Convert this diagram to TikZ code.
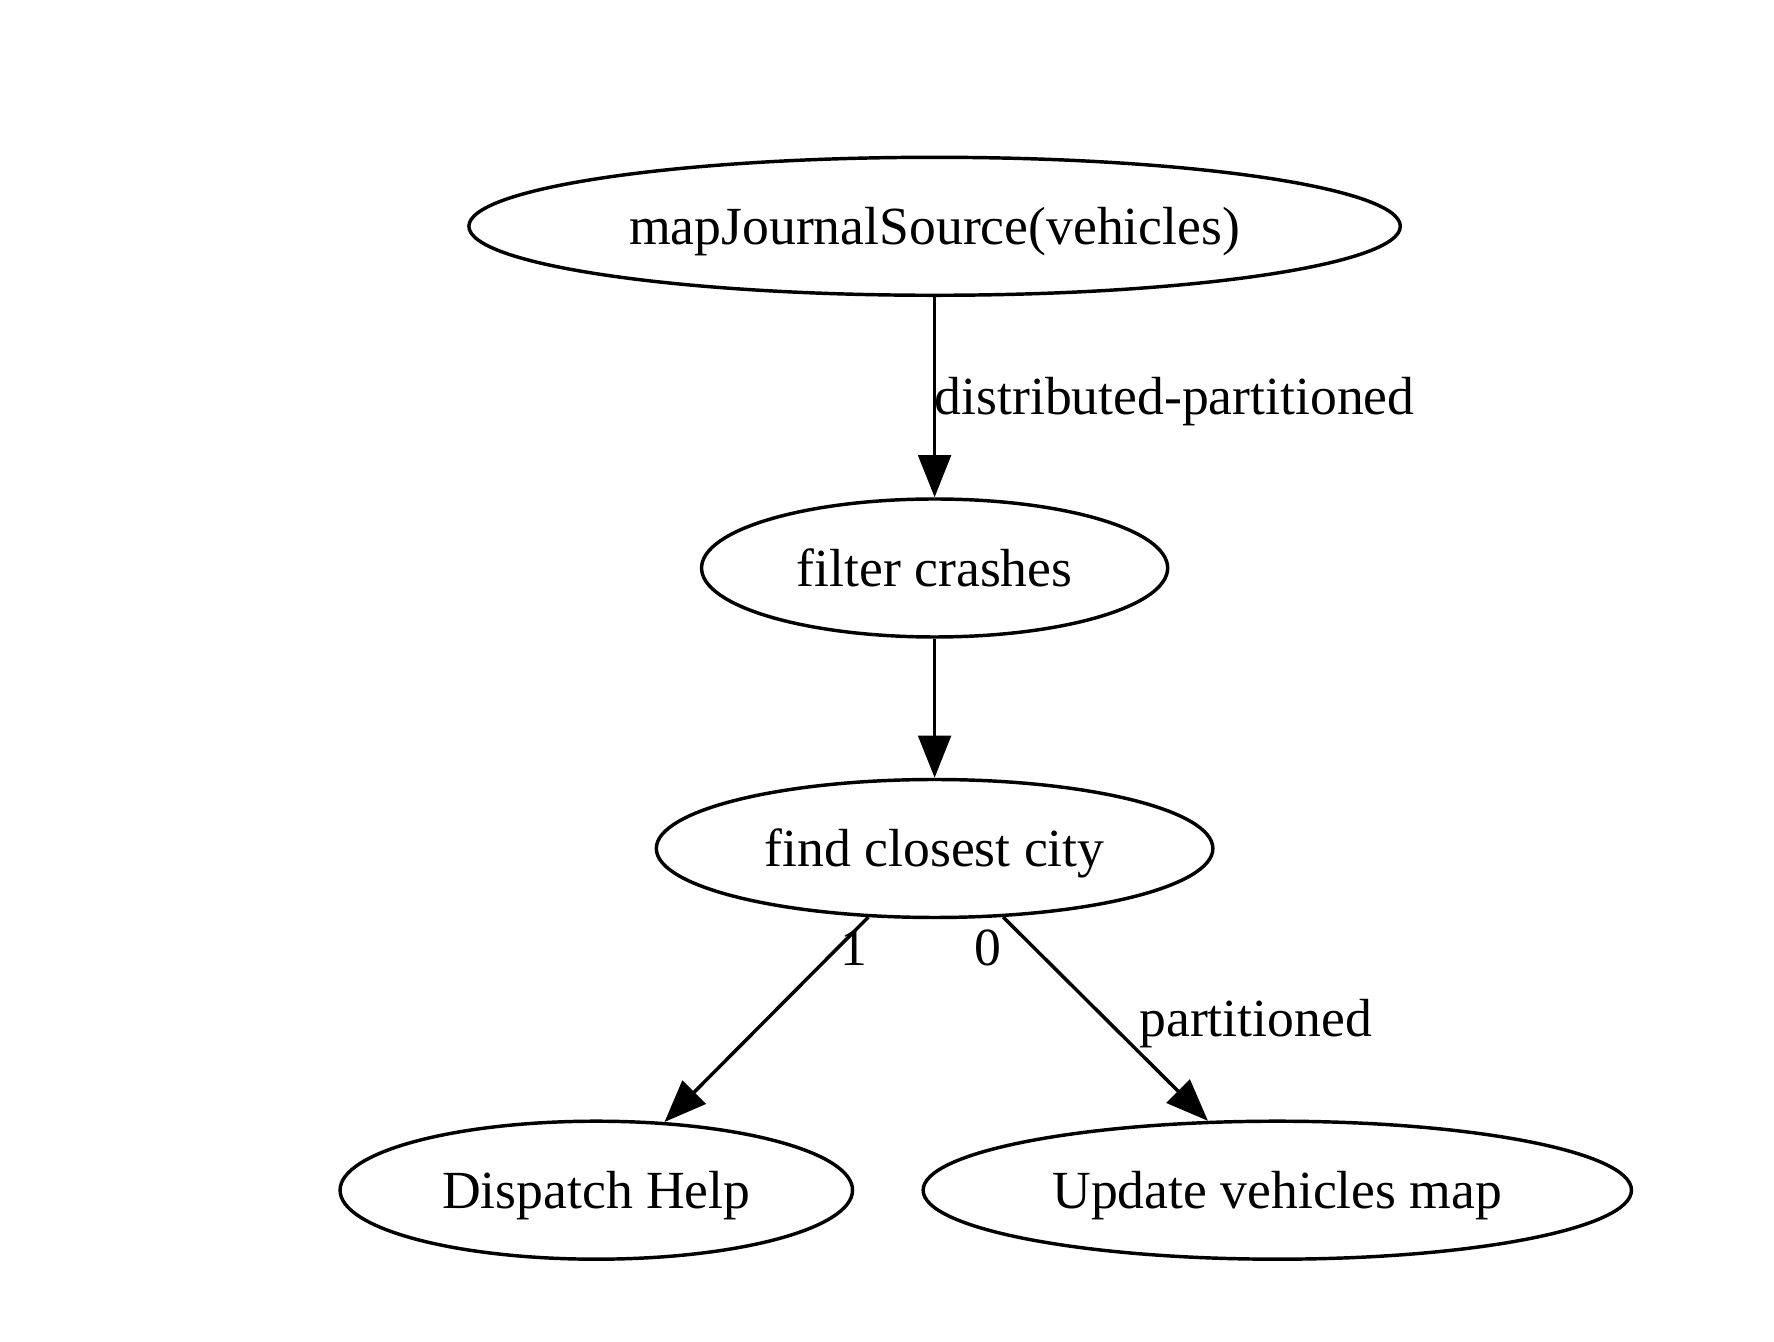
\documentclass[tikz,border=0pt]{standalone}
\usepackage{fontspec}
\setmainfont{Liberation Serif}
\usetikzlibrary{shapes.geometric,arrows.meta}
\begin{document}
\begin{tikzpicture}[x=0.2609pt,y=-0.2609pt,
  lbl/.style={font=\fontsize{14pt}{16pt}\selectfont, inner sep=0pt},
  gnode/.style={draw, ellipse, line width=0.9pt, inner sep=0pt,
    minimum height=36pt, text height=9.4pt, text depth=0pt,
    font=\fontsize{14pt}{16pt}\selectfont},
  edge/.style={draw, line width=0.9pt, -{Triangle[length=11pt,width=8.5pt]}}]
\useasboundingbox (0,0) rectangle (1774,1342);
\node[gnode, minimum width=243pt] (map) at (934.6,226.3) {mapJournalSource(vehicles)};
\node[gnode, minimum width=121.6pt] (filter) at (934.6,568) {filter crashes};
\node[gnode, minimum width=145.2pt] (find) at (934.6,848.5) {find closest city};
\node[gnode, minimum width=133.7pt] (disp) at (596.3,1190.2) {Dispatch Help};
\node[gnode, minimum width=184.8pt] (upd) at (1277.3,1190.2) {Update vehicles map};
\draw[edge] (map) -- (filter);
\draw[edge] (filter) -- (find);
\draw[edge] (find.-134) -- (disp.45.4);
\draw[edge] (find.-45.5) -- (upd.135.3);
\node[lbl, anchor=base] (l1) at (1174.6,415) {distributed-partitioned};
\node[lbl, anchor=base] (l2) at (853.6,966) {1};
\node[lbl, anchor=base] (l3) at (987.5,966) {0};
\node[lbl, anchor=base] (l4) at (1255.6,1037) {partitioned};
\end{tikzpicture}
\end{document}
